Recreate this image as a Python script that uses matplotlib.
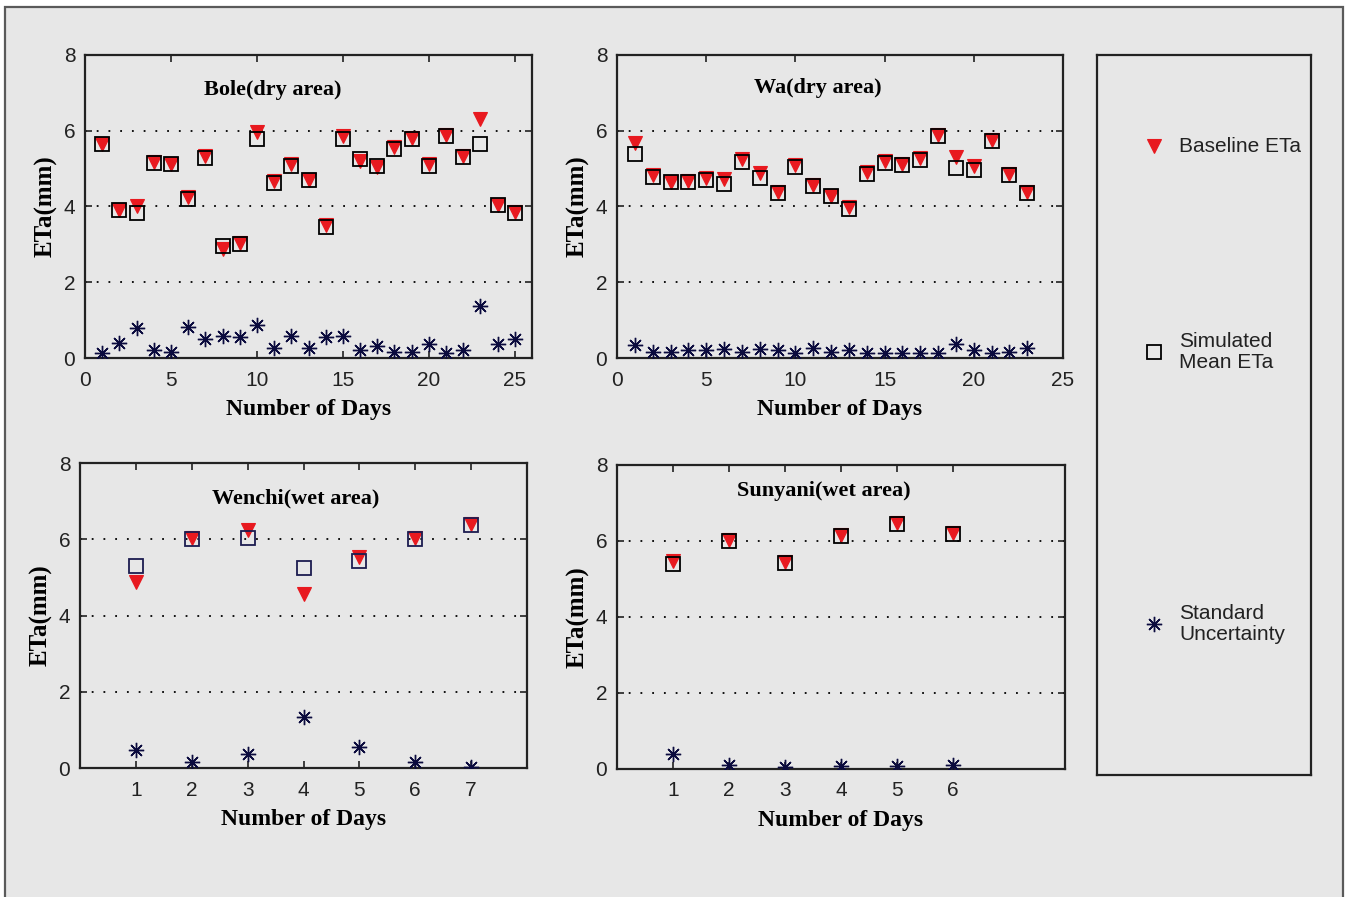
import matplotlib
matplotlib.use("Agg")
import matplotlib.pyplot as plt
from matplotlib.patches import Rectangle
from matplotlib.lines import Line2D

# ---- data: ETa (mm) per day for each station ----
bole_days = list(range(1, 26))
bole_baseline = [5.65, 3.92, 4.00, 5.18, 5.12, 4.26, 5.34, 2.88, 3.03, 5.96, 4.68, 5.13,
                 4.71, 3.52, 5.85, 5.20, 5.05, 5.56, 5.82, 5.13, 5.88, 5.33, 6.30, 4.04, 3.86]
bole_simulated = [5.64, 3.90, 3.82, 5.16, 5.11, 4.20, 5.27, 2.96, 3.01, 5.78, 4.61, 5.07,
                  4.70, 3.45, 5.78, 5.25, 5.07, 5.53, 5.78, 5.07, 5.86, 5.31, 5.64, 4.05, 3.84]
bole_uncert = [0.12, 0.40, 0.78, 0.21, 0.15, 0.83, 0.49, 0.59, 0.55, 0.87, 0.26, 0.59,
               0.26, 0.55, 0.58, 0.21, 0.32, 0.17, 0.17, 0.37, 0.12, 0.21, 1.38, 0.36, 0.49]

wa_days = list(range(1, 24))
wa_baseline = [5.67, 4.82, 4.66, 4.68, 4.75, 4.73, 5.25, 4.88, 4.38, 5.10, 4.58, 4.29,
               3.98, 4.90, 5.19, 5.12, 5.28, 5.89, 5.32, 5.08, 5.75, 4.86, 4.39]
wa_simulated = [5.39, 4.79, 4.64, 4.66, 4.70, 4.60, 5.17, 4.75, 4.35, 5.05, 4.55, 4.27,
                3.94, 4.86, 5.15, 5.10, 5.24, 5.85, 5.02, 4.96, 5.72, 4.82, 4.35]
wa_uncert = [0.34, 0.17, 0.17, 0.21, 0.21, 0.25, 0.17, 0.25, 0.21, 0.12, 0.27, 0.17,
             0.21, 0.12, 0.12, 0.12, 0.12, 0.12, 0.37, 0.21, 0.12, 0.17, 0.27]

wenchi_days = list(range(1, 8))
wenchi_baseline = [4.88, 6.04, 6.25, 4.57, 5.53, 6.04, 6.41]
wenchi_simulated = [5.30, 6.00, 6.04, 5.25, 5.43, 6.00, 6.38]
wenchi_uncert = [0.46, 0.17, 0.36, 1.33, 0.54, 0.17, 0.02]

sunyani_days = list(range(1, 7))
sunyani_baseline = [5.47, 6.02, 5.45, 6.15, 6.48, 6.20]
sunyani_simulated = [5.40, 5.99, 5.42, 6.12, 6.46, 6.18]
sunyani_uncert = [0.39, 0.11, 0.06, 0.08, 0.08, 0.10]

titles = ["Bole(dry area)", "Wa(dry area)", "Wenchi(wet area)", "Sunyani(wet area)"]
legend_labels = ["Baseline ETa", "Simulated\nMean ETa", "Standard\nUncertainty"]

# ---- styling ----
BG = "#e7e7e7"
RED = "#e8191f"
NAVY = "#0b0b3e"
SERIF = ["Liberation Serif", "DejaVu Serif"]
SANS = ["Liberation Sans", "DejaVu Sans"]

tri_style = dict(marker="v", ms=10.5, mfc=RED, mec=RED, ls="none", mew=0.8)
sq_style = dict(marker="s", ms=10, mfc="none", mec="black", ls="none", mew=1.3)
star_style = dict(marker=(8, 2, 0), ms=11, mec=NAVY, mfc=NAVY, ls="none", mew=1.0)

fig = plt.figure(figsize=(13.46, 8.97), dpi=100, facecolor="white")

# outer panel frame (behind everything)
W, H = 1346.0, 897.0
fig.patches.append(Rectangle((5 / W, -0.02), (1343 - 5) / W, (H - 7) / H + 0.02,
                             transform=fig.transFigure, facecolor=BG,
                             edgecolor="#5a5a5a", linewidth=1.6, zorder=-10))

panels = [
    dict(rect=[85 / W, 1 - 358 / H, 447 / W, 303 / H], days=bole_days,
         base=bole_baseline, sim=bole_simulated, unc=bole_uncert,
         xlim=(0, 26), xticks=[0, 5, 10, 15, 20, 25], title_pos=(0.42, 0.885),
         sq_color="black"),
    dict(rect=[617 / W, 1 - 358 / H, 446 / W, 303 / H], days=wa_days,
         base=wa_baseline, sim=wa_simulated, unc=wa_uncert,
         xlim=(0, 25), xticks=[0, 5, 10, 15, 20, 25], title_pos=(0.45, 0.89),
         sq_color="black"),
    dict(rect=[80 / W, 1 - 768 / H, 447 / W, 305 / H], days=wenchi_days,
         base=wenchi_baseline, sim=wenchi_simulated, unc=wenchi_uncert,
         xlim=(0, 8), xticks=[1, 2, 3, 4, 5, 6, 7], title_pos=(0.483, 0.885),
         sq_color="#1c1c50"),
    dict(rect=[617 / W, 1 - 769 / H, 448 / W, 304 / H], days=sunyani_days,
         base=sunyani_baseline, sim=sunyani_simulated, unc=sunyani_uncert,
         xlim=(0, 8), xticks=[1, 2, 3, 4, 5, 6], title_pos=(0.462, 0.915),
         sq_color="black"),
]

for p, title in zip(panels, titles):
    ax = fig.add_axes(p["rect"])
    ax.set_facecolor(BG)
    ax.plot(p["days"], p["base"], **tri_style, zorder=3)
    ax.plot(p["days"], p["sim"], **{**sq_style, "mec": p["sq_color"]}, zorder=4)
    ax.plot(p["days"], p["unc"], **star_style, zorder=4)
    ax.set_xlim(*p["xlim"])
    ax.set_ylim(0, 8)
    ax.set_xticks(p["xticks"])
    ax.set_yticks([0, 2, 4, 6, 8])
    for y in (2, 4, 6):
        ax.axhline(y, color="black", lw=1.3, ls=(0, (1, 5.5)), zorder=1)
    ax.tick_params(direction="in", length=5, width=1.2, top=True, right=True,
                   labelsize=15, colors="#222222")
    ax.tick_params(axis="x", pad=9)
    ax.tick_params(axis="y", pad=7)
    for lab in ax.get_xticklabels() + ax.get_yticklabels():
        lab.set_family(SANS)
        lab.set_color("#222222")
    for s in ax.spines.values():
        s.set_linewidth(1.6)
        s.set_color("#222222")
    ax.text(*p["title_pos"], title, transform=ax.transAxes, ha="center", va="center",
            family=SERIF, fontweight="bold", fontsize=16)
    ax.set_xlabel("Number of Days", family=SERIF, fontweight="bold", fontsize=17, labelpad=7)
    ax.set_ylabel("ETa(mm)", family=SERIF, fontweight="bold", fontsize=18, labelpad=4)

# legend panel
lax = fig.add_axes([1097 / W, 1 - 775 / H, 214 / W, 720 / H])
lax.set_facecolor(BG)
lax.set_xlim(0, 1)
lax.set_ylim(0, 1)
lax.set_xticks([])
lax.set_yticks([])
for s in lax.spines.values():
    s.set_linewidth(1.6)
    s.set_color("#222222")
key_styles = [tri_style, sq_style, star_style]
key_y = [1 - (146 - 55) / 720, 1 - (352 - 55) / 720, 1 - (624 - 55) / 720]
for style, label, y in zip(key_styles, legend_labels, key_y):
    lax.add_line(Line2D([0.265], [y], **style))
    lax.text(0.385, y, label, ha="left", va="center", family=SANS, fontsize=15,
             color="#222222", linespacing=1.15)

fig.savefig("out.png", dpi=100, facecolor="white")
